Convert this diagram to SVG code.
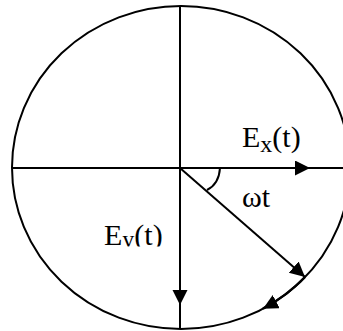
<svg xmlns="http://www.w3.org/2000/svg" width="343" height="331" viewBox="0 0 343 331">
<style>
.ln{fill:none;stroke:#000;stroke-width:2}
.lb{font-family:"Liberation Serif","Times New Roman",serif;font-size:30px;fill:#000}
.sb{font-size:24px}
</style>
<defs>
<marker id="ah" markerUnits="userSpaceOnUse" markerWidth="16" markerHeight="16" refX="15" refY="7.5" orient="auto" viewBox="0 0 16 16">
<path d="M0,0 L15,7.5 L0,15 z" fill="#000"/>
</marker>
<clipPath id="eyclip"><rect x="100" y="200" width="80" height="46.5"/></clipPath>
</defs>
<rect width="343" height="331" fill="#fff"/>
<g id="circle">
<ellipse class="ln" cx="181" cy="167.5" rx="169" ry="161.5"/>
</g>
<g id="connectors">
<line class="ln" x1="12" y1="168" x2="343" y2="168"/>
<line class="ln" x1="180" y1="168" x2="310" y2="168" marker-end="url(#ah)"/>
<line class="ln" x1="180" y1="6" x2="180" y2="329"/>
<line class="ln" x1="180" y1="168" x2="180" y2="305" marker-end="url(#ah)"/>
<line class="ln" x1="180" y1="168" x2="305" y2="277" marker-end="url(#ah)"/>
<path class="ln" d="M220,168 Q219,184 207,190"/>
<path class="ln" style="stroke-width:2.5" d="M305,277 A169,161.5 0 0 1 263,308.7" marker-end="url(#ah)"/>
</g>
<g id="label-ex">
<text class="lb" x="242" y="147">E<tspan class="sb" dy="5">x</tspan><tspan dy="-5">(t)</tspan></text>
</g>
<g id="label-wt">
<text class="lb" x="242" y="207">ωt</text>
</g>
<g id="label-ey">
<text class="lb" x="104" y="245" clip-path="url(#eyclip)">E<tspan class="sb" dy="2">y</tspan><tspan dy="-2">(t)</tspan></text>
</g>
</svg>
